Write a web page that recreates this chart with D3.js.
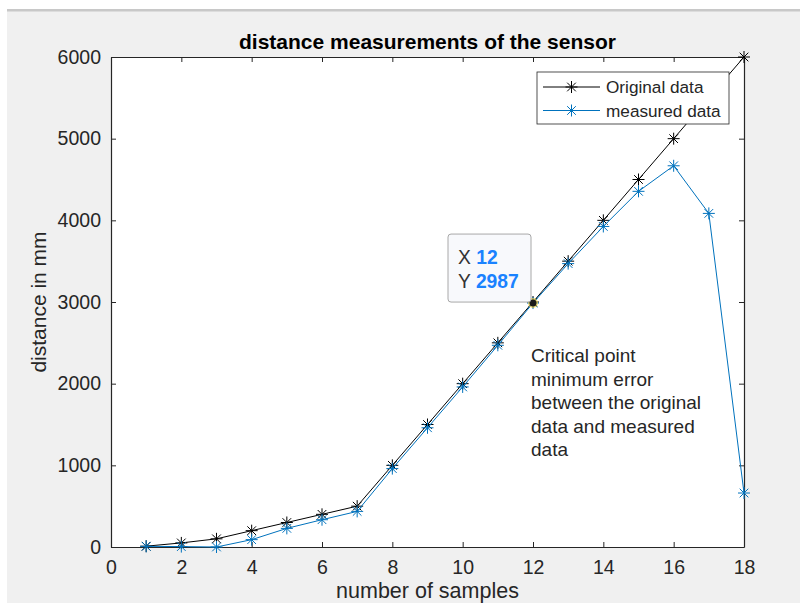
<!DOCTYPE html>
<html>
<head>
<meta charset="utf-8">
<script src="https://cdn.jsdelivr.net/npm/d3@7"></script>
<style>
  body { margin: 0; background: #ffffff; }
  svg { display: block; font-family: "Liberation Sans", Arial, sans-serif; }
</style>
</head>
<body>
<div id="chart"></div>
<script>
// Sample numbers (x axis)
const samples = [1, 2, 3, 4, 5, 6, 7, 8, 9, 10, 11, 12, 13, 14, 15, 16, 17, 18];
// Original distances in mm
const originalData = [10, 50, 100, 200, 300, 400, 500, 1000, 1500, 2000, 2500, 3000, 3500, 4000, 4500, 5000, 5500, 6000];
// Measured distances in mm
const measuredData = [8, 5, 0, 90, 228, 334, 436, 960, 1460, 1960, 2470, 2987, 3470, 3925, 4355, 4668, 4085, 661];
const xTicks = [0, 2, 4, 6, 8, 10, 12, 14, 16, 18];
const yTicks = [0, 1000, 2000, 3000, 4000, 5000, 6000];
const annotationLines = ["Critical point", "minimum error", "between the original", "data and measured", "data"];

const width = 800, height = 603;
const margin = { left: 111, right: 56, top: 57, bottom: 56 };
const axisColor = "#262626";
const blue = "#0072BD";

const svg = d3.select("#chart").append("svg")
    .attr("width", width)
    .attr("height", height);

// Figure background like the MATLAB window
svg.append("rect").attr("x", 7).attr("y", 9).attr("width", width - 7).attr("height", height - 9).attr("fill", "#f0f0f0");
svg.append("rect").attr("x", 7).attr("y", 9).attr("width", width - 7).attr("height", 2.5).attr("fill", "#c8c8c8");

const x = d3.scaleLinear().domain([0, 18]).range([margin.left, width - margin.right]);
const y = d3.scaleLinear().domain([0, 6000]).range([height - margin.bottom, margin.top]);

// Plot area
svg.append("rect")
    .attr("x", x(0)).attr("y", y(6000))
    .attr("width", x(18) - x(0)).attr("height", y(0) - y(6000))
    .attr("fill", "#ffffff");

// Axes with inward ticks on all four sides
const axisBottomG = svg.append("g").attr("transform", `translate(0,${y(0)})`)
    .call(d3.axisBottom(x).tickValues(xTicks).tickSizeInner(-5).tickSizeOuter(0).tickPadding(13));
const axisTopG = svg.append("g").attr("transform", `translate(0,${y(6000)})`)
    .call(d3.axisTop(x).tickValues(xTicks).tickSizeInner(-5).tickSizeOuter(0).tickFormat(""));
const axisLeftG = svg.append("g").attr("transform", `translate(${x(0)},0)`)
    .call(d3.axisLeft(y).tickValues(yTicks).tickSizeInner(-5).tickSizeOuter(0).tickPadding(10).tickFormat(d3.format("d")));
const axisRightG = svg.append("g").attr("transform", `translate(${x(18)},0)`)
    .call(d3.axisRight(y).tickValues(yTicks).tickSizeInner(-5).tickSizeOuter(0).tickFormat(""));

[axisBottomG, axisTopG, axisLeftG, axisRightG].forEach(g => {
    g.selectAll("path").attr("stroke", axisColor).attr("stroke-width", 1.2);
    g.selectAll("line").attr("stroke", axisColor).attr("stroke-width", 1);
    g.selectAll("text").attr("fill", axisColor).style("font-size", "19.5px");
});

// Axis labels and title
svg.append("text")
    .attr("x", (x(0) + x(18)) / 2).attr("y", 598)
    .attr("text-anchor", "middle").attr("fill", axisColor)
    .style("font-size", "21.5px")
    .text("number of samples");

svg.append("text")
    .attr("transform", `translate(46,${(y(0) + y(6000)) / 2}) rotate(-90)`)
    .attr("text-anchor", "middle").attr("fill", axisColor)
    .style("font-size", "21px")
    .text("distance in mm");

svg.append("text")
    .attr("x", (x(0) + x(18)) / 2).attr("y", 49)
    .attr("text-anchor", "middle").attr("fill", "#000")
    .style("font-size", "21px").style("font-weight", "bold")
    .text("distance measurements of the sensor");

// Asterisk marker
const r = 6, d = r * 0.72;
const star = `M${-r},0L${r},0M0,${-r}L0,${r}M${-d},${-d}L${d},${d}M${-d},${d}L${d},${-d}`;

const line = d3.line().x((v, i) => x(samples[i])).y(v => y(v));

function drawSeries(values, color) {
    svg.append("path")
        .datum(values)
        .attr("d", line)
        .attr("fill", "none")
        .attr("stroke", color)
        .attr("stroke-width", 1);
    svg.append("g").selectAll("path")
        .data(values)
        .enter().append("path")
        .attr("transform", (v, i) => `translate(${x(samples[i])},${y(v)})`)
        .attr("d", star)
        .attr("stroke", color)
        .attr("stroke-width", 1);
}

drawSeries(originalData, "#000000");
drawSeries(measuredData, blue);

// Legend
const legend = svg.append("g").attr("transform", "translate(537,72)");
legend.append("rect").attr("width", 192).attr("height", 52)
    .attr("fill", "#ffffff").attr("stroke", axisColor).attr("stroke-width", 0.8);
[["Original data", "#000000"], ["measured data", blue]].forEach(([label, color], i) => {
    const row = legend.append("g").attr("transform", `translate(0,${15 + i * 23.5})`);
    row.append("line").attr("x1", 6).attr("x2", 63).attr("stroke", color).attr("stroke-width", 1);
    row.append("path").attr("transform", "translate(34.5,0)").attr("d", star).attr("stroke", color).attr("stroke-width", 1);
    row.append("text").attr("x", 69).attr("dy", "0.35em").attr("fill", axisColor)
        .style("font-size", "17.2px").text(label);
});

// Data tip at sample 12
const tipX = 12, tipY = measuredData[samples.indexOf(12)];
svg.append("circle").attr("cx", x(tipX)).attr("cy", y(tipY)).attr("r", 5)
    .attr("fill", "#f2d64b").attr("opacity", 0.7);
svg.append("circle").attr("cx", x(tipX)).attr("cy", y(tipY)).attr("r", 3.5)
    .attr("fill", "#1a1a1a");
const tip = svg.append("g").attr("transform", `translate(${x(tipX) - 85},${y(tipY) - 69})`);
tip.append("rect").attr("width", 83).attr("height", 68).attr("rx", 3)
    .attr("fill", "#f8f9fc").attr("stroke", "#a8a8a8").attr("stroke-width", 1);
[["X", tipX], ["Y", tipY]].forEach(([k, v], i) => {
    const t = tip.append("text").attr("x", 10).attr("y", 30 + i * 24).style("font-size", "19.3px");
    t.append("tspan").attr("fill", "#333").text(k + " ");
    t.append("tspan").attr("fill", "#1a82ff").style("font-weight", "bold").text(v);
});

// Annotation
svg.append("text")
    .attr("x", 531).attr("y", 362)
    .attr("fill", axisColor).style("font-size", "19px")
    .selectAll("tspan").data(annotationLines)
    .enter().append("tspan")
    .attr("x", 531).attr("dy", (v, i) => i === 0 ? 0 : 23.5)
    .text(v => v);
</script>
</body>
</html>
